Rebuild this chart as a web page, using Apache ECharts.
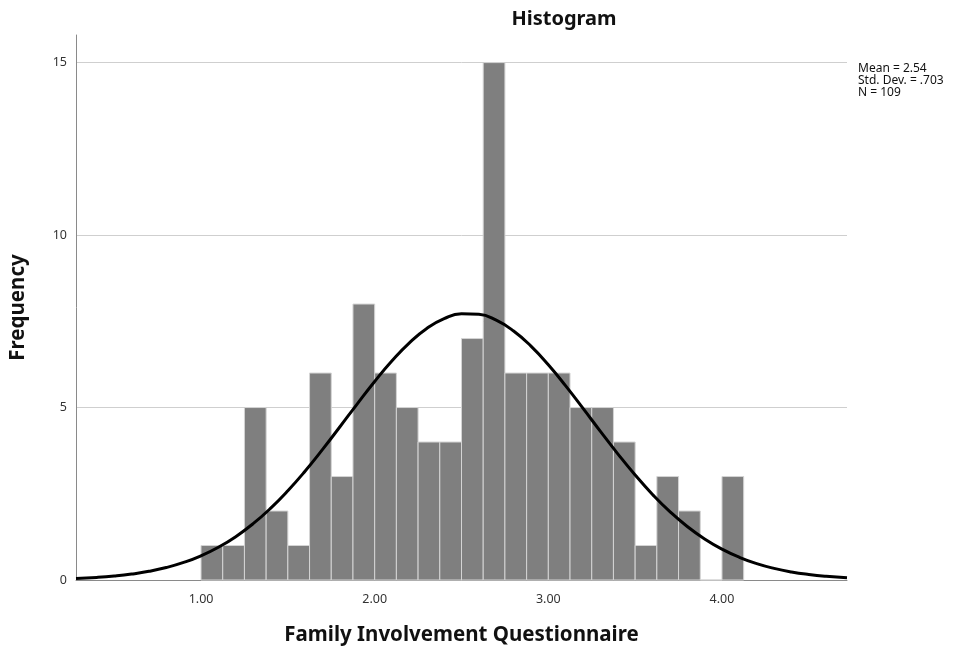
<!DOCTYPE html>
<html>
<head>
<meta charset="utf-8">
<script src="https://cdn.jsdelivr.net/npm/echarts@6/dist/echarts.min.js"></script>
<style>html,body{margin:0;padding:0;background:#fff}#c{width:973px;height:651px}</style>
</head>
<body>
<div id="c"></div>
<script>
// Histogram bins (lower edges) and frequencies
const binWidth = 0.125;
const binStarts = [1.000,1.125,1.250,1.375,1.500,1.625,1.750,1.875,2.000,2.125,2.250,2.375,2.500,2.625,2.750,2.875,3.000,3.125,3.250,3.375,3.500,3.625,3.750,3.875,4.000];
const frequencies = [1,1,5,2,1,6,3,8,6,5,4,4,7,15,6,6,6,5,5,4,1,3,2,0,3];
// Normal curve
const curveX = [0.28,0.4,0.5,0.6,0.7,0.8,0.9,1.0,1.1,1.2,1.3,1.4,1.5,1.6,1.7,1.8,1.9,2.0,2.1,2.2,2.3,2.4,2.5,2.6,2.7,2.8,2.9,3.0,3.1,3.2,3.3,3.4,3.5,3.6,3.7,3.8,3.9,4.0,4.1,4.2,4.3,4.4,4.5,4.6,4.72];
const curveY = [0.044,0.075,0.115,0.172,0.251,0.361,0.509,0.702,0.949,1.257,1.632,2.076,2.588,3.161,3.786,4.442,5.108,5.755,6.355,6.877,7.293,7.578,7.717,7.702,7.532,7.219,6.780,6.240,5.628,4.975,4.309,3.658,3.043,2.481,1.981,1.551,1.190,0.894,0.659,0.476,0.337,0.233,0.159,0.106,0.063];
const xTickValues = [1,2,3,4];
const statsLines = ['Mean = 2.54','Std. Dev. = .703','N = 109'];

const barData = binStarts.map((s,i)=>[s, s+binWidth, frequencies[i]]);
const lineData = curveX.map((x,i)=>[x, curveY[i]]);

const chart = echarts.init(document.getElementById('c'));
const font = 'Noto Sans, DejaVu Sans, sans-serif';
chart.setOption({
  animation:false,
  backgroundColor:'#fff',
  title:{text:'Histogram', left:559, top:4, textAlign:'center',
    textStyle:{fontFamily:font, fontWeight:'bold', fontSize:20, color:'#111'}},
  grid:{left:76, right:126, top:35, bottom:71, outerBoundsMode:'none'},
  xAxis:{type:'value', min:0.28, max:4.72,
    name:'Family Involvement Questionnaire', nameLocation:'middle', nameGap:45,
    nameTextStyle:{fontFamily:font, fontWeight:'bold', fontSize:20.5, color:'#111'},
    axisLine:{show:true, onZero:false, lineStyle:{color:'#8a8a8a', width:1}},
    axisTick:{show:false},
    splitLine:{show:false},
    axisLabel:{customValues:xTickValues, formatter:v=>v.toFixed(2), margin:13,
      fontFamily:font, fontSize:12.5, color:'#333'}
  },
  yAxis:{type:'value', min:0, max:15.8, interval:5,
    name:'Frequency', nameLocation:'middle', nameGap:47, nameRotate:90,
    nameTextStyle:{fontFamily:font, fontWeight:'bold', fontSize:20.5, color:'#111'},
    axisLine:{show:true, lineStyle:{color:'#8a8a8a', width:1}},
    axisTick:{show:false},
    splitLine:{show:true, showMinLine:false, showMaxLine:false, lineStyle:{color:'#cfcfcf', width:1}},
    axisLabel:{showMaxLabel:false, margin:9, fontFamily:font, fontSize:12.5, color:'#333'}
  },
  graphic:[{type:'text', left:858, top:63,
    style:{text:statsLines.join('\n'), fontFamily:font, fontSize:12, lineHeight:12, fill:'#111'}}],
  series:[
    {type:'custom', data:barData, encode:{x:[0,1], y:2},
      renderItem:function(params, api){
        const p0 = api.coord([api.value(0), 0]);
        const p1 = api.coord([api.value(1), api.value(2)]);
        return {type:'rect', shape:{x:p0[0], y:p1[1], width:p1[0]-p0[0], height:p0[1]-p1[1]},
          style:{fill:'#7f7f7f', stroke:'#d4d4d4', lineWidth:1}};
      }, z:2},
    {type:'line', data:lineData, smooth:true, symbol:'none', z:3,
      lineStyle:{color:'#000', width:3}}
  ]
});
</script>
</body>
</html>
